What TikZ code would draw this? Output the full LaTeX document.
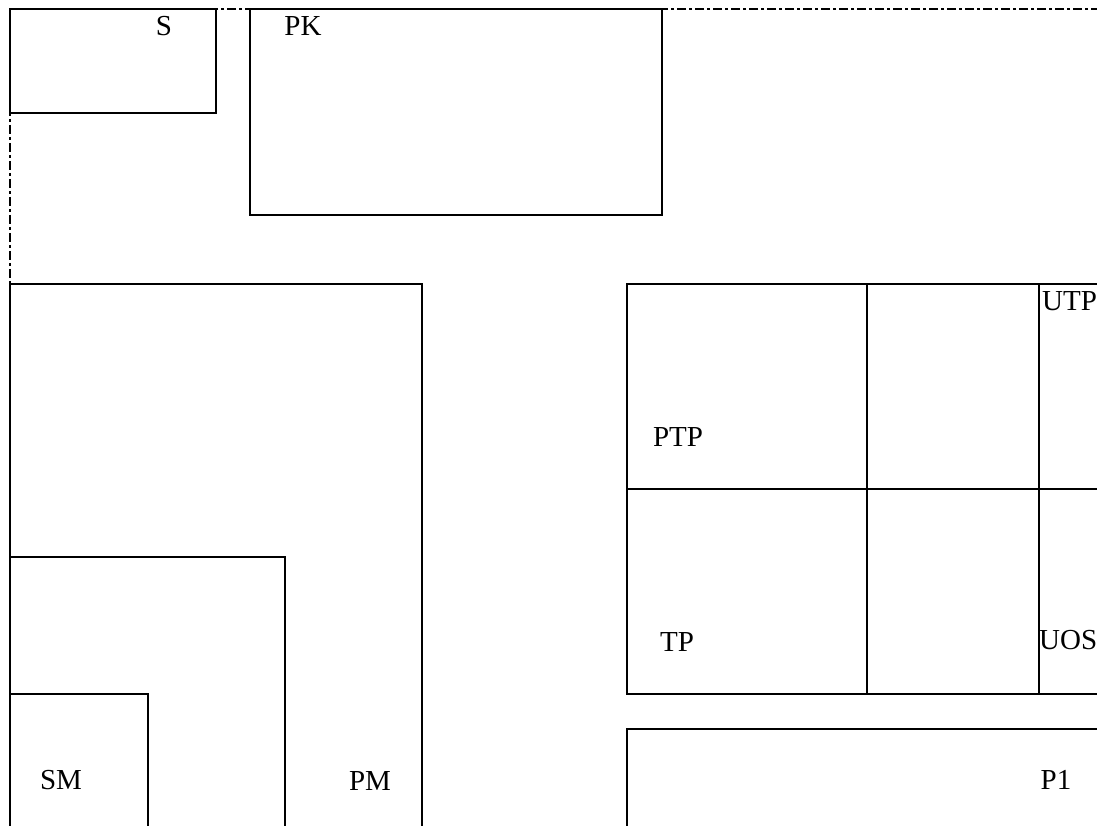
\documentclass[tikz,border=0pt]{standalone}
\usepackage{fontspec}
\setmainfont{Liberation Serif}
\begin{document}
\begin{tikzpicture}[x=1pt,y=-1pt,
  wall/.style={draw=black,line width=1.4pt},
  border/.style={draw=black,line width=2.8pt,dash pattern=on 9pt off 3pt on 3pt off 3pt},
  lbl/.style={font=\fontsize{29}{32}\selectfont,inner sep=0pt,anchor=base}]
\useasboundingbox (0,0) rectangle (1097,826);
\clip (0,0) rectangle (1097,826);
\fill[white] (0,0) rectangle (1097,826);
% rooms
\draw[wall] (10,9) rectangle (216,113);
\draw[wall] (250,9) rectangle (662,215);
\draw[wall] (10,284) rectangle (422,840);
\draw[wall] (10,557) rectangle (285,840);
\draw[wall] (10,694) rectangle (148,840);
\draw[wall] (627,284) rectangle (1110,694);
\draw[wall] (867,284) -- (867,694);
\draw[wall] (1039,284) -- (1039,694);
\draw[wall] (627,489) -- (1110,489);
\draw[wall] (627,729) rectangle (1110,840);
% border
\draw[border] (1100,9) -- (10,9) -- (10,830);
% labels
\node[lbl] (s) at (164,36) {S};
\node[lbl] (pk) at (303,36) {PK};
\node[lbl] (ptp) at (678,446) {PTP};
\node[lbl] (tp) at (677,651) {TP};
\node[lbl,anchor=base west] (utp) at (1042,310) {UTP};
\node[lbl,anchor=base west] (uos) at (1039,649) {UOS};
\node[lbl] (sm) at (61,789) {SM};
\node[lbl] (pm) at (370,790) {PM};
\node[lbl] (p1) at (1056,789) {P1};
\end{tikzpicture}
\end{document}
